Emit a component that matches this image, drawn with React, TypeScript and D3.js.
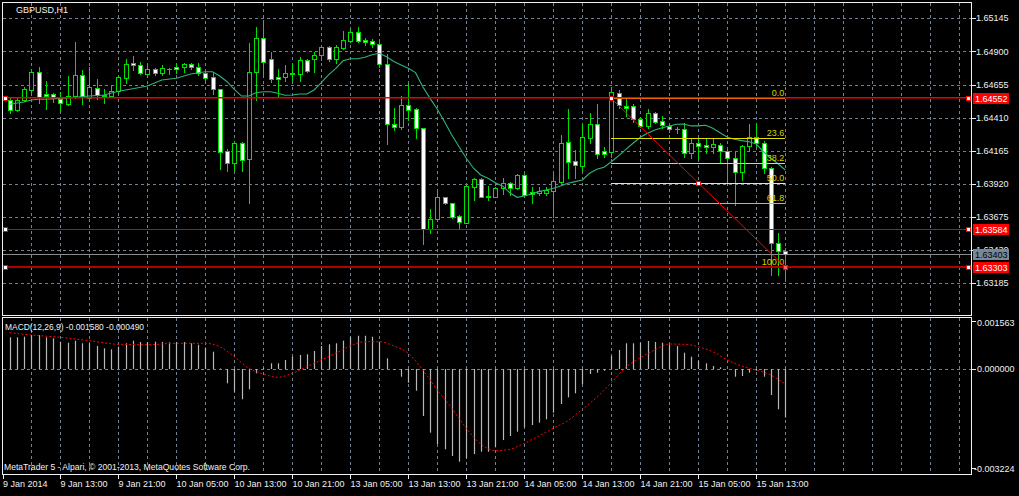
import { useEffect, useRef } from 'react';
import * as d3 from 'd3';

const W = 1019;
const H = 496;

// GBPUSD H1, bar 0 = 9 Jan 05:00 (weekend hours skipped); data starts at bar 1
const FIRST_BAR = 1;

const open = [
  1.64541, 1.64467, 1.64541, 1.64615, 1.64750, 1.64585, 1.64585, 1.64550, 1.64511, 1.64570,
  1.64723, 1.64553, 1.64630, 1.64578, 1.64570, 1.64605, 1.64704, 1.64812, 1.64797, 1.64733,
  1.64768, 1.64738, 1.64772, 1.64783, 1.64783, 1.64805, 1.64783, 1.64738, 1.64709, 1.64624,
  1.64161, 1.64073, 1.64221, 1.64102, 1.64750, 1.64997, 1.64842, 1.64709, 1.64709, 1.64743,
  1.64731, 1.64837, 1.64842, 1.64874, 1.64931, 1.64842, 1.64923, 1.64979, 1.65046, 1.64985,
  1.64977, 1.64955, 1.64805, 1.64361, 1.64339, 1.64502, 1.64472, 1.64331, 1.63585, 1.63658,
  1.63821, 1.63777, 1.63683, 1.63633, 1.63895, 1.63954, 1.63833, 1.63826, 1.63888, 1.63925,
  1.63888, 1.63986, 1.63863, 1.63851, 1.63855, 1.63870, 1.63937, 1.64232, 1.64092, 1.64053,
  1.64258, 1.64363, 1.64166, 1.64158, 1.64590, 1.64496, 1.64496, 1.64398, 1.64349, 1.64442,
  1.64383, 1.64349, 1.64329, 1.64324, 1.64147, 1.64221, 1.64208, 1.64195, 1.64208, 1.64166,
  1.64110, 1.64011, 1.64201, 1.64269, 1.64221, 1.64036, 1.63485, 1.63426,
];

const high = [
  1.64561, 1.64563, 1.64635, 1.64763, 1.64787, 1.64684, 1.64590, 1.64602, 1.64718, 1.64970,
  1.64763, 1.64783, 1.64694, 1.64620, 1.64644, 1.64726, 1.64842, 1.64866, 1.64820, 1.64812,
  1.64777, 1.64800, 1.64777, 1.64812, 1.64817, 1.64812, 1.64812, 1.64750, 1.64750, 1.64624,
  1.64176, 1.64232, 1.64232, 1.64960, 1.65083, 1.65132, 1.64898, 1.64768, 1.64800, 1.64812,
  1.64857, 1.64842, 1.64898, 1.64948, 1.64940, 1.64948, 1.65053, 1.65059, 1.65078, 1.64997,
  1.64990, 1.64972, 1.64881, 1.64479, 1.64570, 1.64669, 1.64479, 1.64331, 1.63732, 1.63880,
  1.63826, 1.63781, 1.63690, 1.63912, 1.63962, 1.63962, 1.63905, 1.63895, 1.63962, 1.63937,
  1.63993, 1.63993, 1.63900, 1.63900, 1.63900, 1.63999, 1.64282, 1.64472, 1.64171, 1.64368,
  1.64447, 1.64511, 1.64195, 1.64639, 1.64615, 1.64565, 1.64511, 1.64413, 1.64472, 1.64452,
  1.64422, 1.64368, 1.64343, 1.64373, 1.64250, 1.64250, 1.64250, 1.64250, 1.64225, 1.64176,
  1.64158, 1.64208, 1.64363, 1.64368, 1.64238, 1.64043, 1.63555, 1.63444,
];

const low = [
  1.64442, 1.64459, 1.64536, 1.64590, 1.64521, 1.64472, 1.64528, 1.64467, 1.64504, 1.64553,
  1.64511, 1.64541, 1.64546, 1.64521, 1.64565, 1.64595, 1.64669, 1.64763, 1.64733, 1.64718,
  1.64728, 1.64726, 1.64733, 1.64738, 1.64750, 1.64768, 1.64726, 1.64676, 1.64585, 1.64028,
  1.64018, 1.64018, 1.64018, 1.63781, 1.64541, 1.64713, 1.64676, 1.64561, 1.64684, 1.64689,
  1.64684, 1.64750, 1.64750, 1.64837, 1.64831, 1.64812, 1.64916, 1.64972, 1.64972, 1.64948,
  1.64935, 1.64787, 1.64215, 1.64319, 1.64324, 1.64393, 1.64258, 1.63476, 1.63559, 1.63653,
  1.63772, 1.63666, 1.63585, 1.63629, 1.63801, 1.63821, 1.63801, 1.63821, 1.63846, 1.63838,
  1.63880, 1.63831, 1.63781, 1.63838, 1.63838, 1.63673, 1.63927, 1.63962, 1.63962, 1.64023,
  1.64221, 1.64110, 1.64117, 1.64121, 1.64479, 1.64422, 1.64380, 1.64339, 1.64331, 1.64373,
  1.64331, 1.64306, 1.64295, 1.64117, 1.64110, 1.64110, 1.64151, 1.64147, 1.64073, 1.63937,
  1.63764, 1.63949, 1.64166, 1.64201, 1.63999, 1.63247, 1.63247, 1.63210,
];

const close = [
  1.64467, 1.64541, 1.64620, 1.64750, 1.64561, 1.64570, 1.64558, 1.64521, 1.64570, 1.64723,
  1.64561, 1.64635, 1.64578, 1.64570, 1.64605, 1.64709, 1.64807, 1.64797, 1.64738, 1.64768,
  1.64738, 1.64775, 1.64768, 1.64772, 1.64807, 1.64783, 1.64738, 1.64706, 1.64620, 1.64156,
  1.64073, 1.64221, 1.64097, 1.64750, 1.64997, 1.64822, 1.64696, 1.64696, 1.64738, 1.64731,
  1.64837, 1.64758, 1.64874, 1.64931, 1.64842, 1.64931, 1.64985, 1.65046, 1.64979, 1.64972,
  1.64955, 1.64805, 1.64361, 1.64339, 1.64502, 1.64467, 1.64331, 1.63585, 1.63658, 1.63821,
  1.63777, 1.63678, 1.63641, 1.63905, 1.63954, 1.63826, 1.63823, 1.63888, 1.63925, 1.63888,
  1.63986, 1.63838, 1.63846, 1.63868, 1.63875, 1.63944, 1.64225, 1.64084, 1.64058, 1.64265,
  1.64363, 1.64141, 1.64141, 1.64602, 1.64504, 1.64482, 1.64398, 1.64349, 1.64442, 1.64380,
  1.64354, 1.64324, 1.64324, 1.64151, 1.64225, 1.64201, 1.64195, 1.64215, 1.64166, 1.64110,
  1.64011, 1.64201, 1.64269, 1.64225, 1.64036, 1.63485, 1.63426, 1.63403,
];

// moving average, read at these bars
const maBars = [
  1, 3, 4, 5, 6, 8, 10, 12, 14, 16, 18, 20, 22, 24, 26, 28,
  29, 30, 31, 32, 33, 34, 35, 36, 37, 38, 39, 40, 41, 42, 43, 44, 45, 46, 47, 48,
  49, 50, 51, 52, 53, 54, 55, 56, 57, 58, 59, 60, 61, 62, 63, 64, 65, 66, 67, 68,
  69, 70, 71, 72, 73, 74, 75, 76, 77, 78, 79, 80, 81, 82, 83, 84, 85, 86, 87, 88,
  89, 90, 91, 92, 93, 94, 95, 96, 97, 98, 99, 100, 101, 102, 103, 104, 105, 106, 107, 108,
];
const maVals = [
  1.64509, 1.64526, 1.64541, 1.64546, 1.64546, 1.64553, 1.64561, 1.64570, 1.64578, 1.64605,
  1.64624, 1.64644, 1.64689, 1.64702, 1.64733, 1.64750,
  1.64750, 1.64718, 1.64676, 1.64620, 1.64570, 1.64570, 1.64595, 1.64602, 1.64602, 1.64590,
  1.64576, 1.64578, 1.64585, 1.64585, 1.64615, 1.64669, 1.64726, 1.64775, 1.64831, 1.64846,
  1.64846, 1.64857, 1.64876, 1.64886, 1.64861, 1.64825, 1.64800, 1.64775, 1.64743, 1.64639,
  1.64553, 1.64472, 1.64380, 1.64282, 1.64195, 1.64110, 1.64036, 1.63986, 1.63962, 1.63929,
  1.63905, 1.63855, 1.63821, 1.63831, 1.63846, 1.63863, 1.63875, 1.63888, 1.63905, 1.63925,
  1.63937, 1.63949, 1.63999, 1.64028, 1.64043, 1.64084, 1.64127, 1.64176, 1.64221, 1.64265,
  1.64295, 1.64319, 1.64336, 1.64349, 1.64361, 1.64363, 1.64349, 1.64349, 1.64354, 1.64331,
  1.64299, 1.64265, 1.64250, 1.64240, 1.64232, 1.64215, 1.64158, 1.64110, 1.64069, 1.64023,
];

// MACD(12,26,9) main values (histogram), bars 1..108
const macd = [
  0.001032, 0.001032, 0.001052, 0.001107, 0.001107, 0.001032, 0.001000, 0.000889, 0.000856, 0.000922,
  0.000837, 0.000837, 0.000749, 0.000674, 0.000641, 0.000726, 0.000837, 0.000922, 0.000879, 0.000879,
  0.000889, 0.000879, 0.000869, 0.000879, 0.000879, 0.000837, 0.000791, 0.000694, 0.000563, 0.000016,
  -0.000466, -0.000739, -0.000987, -0.000661, -0.000140, 0.000030, 0.000186, 0.000186, 0.000293, 0.000401,
  0.000456, 0.000479, 0.000586, 0.000749, 0.000804, 0.000837, 0.000922, 0.001052, 0.001084, 0.001084,
  0.001052, 0.000889, 0.000348, -0.000033, -0.000251, -0.000446, -0.000707, -0.001530, -0.002074, -0.002442,
  -0.002615, -0.002833, -0.003019, -0.002908, -0.002768, -0.002693, -0.002693, -0.002550, -0.002312, -0.002182,
  -0.002042, -0.001898, -0.001824, -0.001749, -0.001638, -0.001423, -0.001140, -0.000922, -0.000791, -0.000488,
  -0.000163, -0.000120, -0.000055, 0.000423, 0.000619, 0.000837, 0.000837, 0.000856, 0.000912, 0.000879,
  0.000856, 0.000782, 0.000749, 0.000531, 0.000401, 0.000270, 0.000186, 0.000098, 0.000055, 0.000010,
  -0.000251, -0.000228, -0.000120, -0.000055, -0.000251, -0.000847, -0.001312, -0.001580,
];

// signal line, read at these bars
const sigBars = [
  1, 4, 8, 12, 16, 20, 24, 28, 30, 32, 34, 36, 38, 40, 42, 44, 46, 48, 50, 52, 54, 56, 58, 60,
  62, 64, 66, 68, 70, 72, 74, 76, 78, 80, 82, 84, 86, 88, 90, 92, 94, 96, 98, 100, 102, 104, 106, 108,
];
const sigVals = [
  0.001182, 0.001107, 0.001032, 0.000922, 0.000804, 0.000791, 0.000837, 0.000837, 0.000726, 0.000401,
  0.000023, -0.000163, -0.000270, -0.000140, 0.000075, 0.000293, 0.000511, 0.000749, 0.000889, 0.000889,
  0.000749, 0.000511, -0.000033, -0.000684, -0.001280, -0.001931, -0.002442, -0.002660, -0.002615, -0.002419,
  -0.002182, -0.001931, -0.001683, -0.001312, -0.000922, -0.000446, 0.000055, 0.000368, 0.000619, 0.000814,
  0.000804, 0.000726, 0.000563, 0.000293, 0.000098, -0.000033, -0.000195, -0.000490,
];

const priceTicks = [1.65145, 1.649, 1.64655, 1.6441, 1.64165, 1.6392, 1.63675, 1.6343, 1.63185];
const macdTicks = [0.001563, 0, -0.003224];
const timeBars = [0, 8, 16, 24, 32, 40, 48, 56, 64, 72, 80, 88, 96, 104];
const timeLabels = [
  '9 Jan 2014', '9 Jan 13:00', '9 Jan 21:00', '10 Jan 05:00', '10 Jan 13:00', '10 Jan 21:00',
  '13 Jan 05:00', '13 Jan 13:00', '13 Jan 21:00', '14 Jan 05:00', '14 Jan 13:00', '14 Jan 21:00',
  '15 Jan 05:00', '15 Jan 13:00',
];

// chart objects
const hLines = [1.64552, 1.63584, 1.63303];
const bidPrice = 1.63403;
const fibBars = [84, 108];
const fibPrices = [1.64552, 1.63303];
const fibLevels = [0, 23.6, 38.2, 50, 61.8, 100];

const GREEN = '#00e000';
const GRID = '#6f8193';
const FONT = 'Tahoma, "Liberation Sans", Arial, sans-serif';

export default function App() {
  const svgRef = useRef<SVGSVGElement>(null);

  useEffect(() => {
    document.body.style.margin = '0';
    document.body.style.background = '#000';
    if (!svgRef.current) return;
    const svg = d3.select(svgRef.current);
    svg.selectAll('*').remove();

    const left = 3, right = 971;
    const mainTop = 3, mainBottom = 315;
    const subTop = 318, subBottom = 474;

    const x = d3.scaleLinear().domain([0, 8]).range([2.3, 60.3]);
    const y = d3.scaleLinear().domain([1.65145, 1.63185]).range([18.3, 283.3]);
    const ym = d3.scaleLinear().domain([0.001563, -0.003224]).range([321, 468]);
    const px = (i: number) => Math.round(x(i)) + 0.5;
    const py = (v: number) => Math.round(y(v)) + 0.5;

    svg.append('rect').attr('width', W).attr('height', H).attr('fill', '#000');

    const defs = svg.append('defs');
    defs.append('clipPath').attr('id', 'clipMain').append('rect')
      .attr('x', left).attr('y', mainTop).attr('width', right - left).attr('height', mainBottom - mainTop);
    defs.append('clipPath').attr('id', 'clipSub').append('rect')
      .attr('x', left).attr('y', subTop).attr('width', right - left).attr('height', subBottom - subTop);

    // grid
    const grid = svg.append('g').attr('stroke', GRID).attr('stroke-dasharray', '3,3').attr('shape-rendering', 'crispEdges');
    const vBars = d3.range(4, 134, 4).filter(i => x(i) < right);
    vBars.forEach(i => {
      grid.append('line').attr('x1', px(i)).attr('x2', px(i)).attr('y1', mainTop).attr('y2', mainBottom);
      grid.append('line').attr('x1', px(i)).attr('x2', px(i)).attr('y1', subTop).attr('y2', subBottom);
    });
    priceTicks.forEach(p => {
      grid.append('line').attr('x1', left).attr('x2', right).attr('y1', py(p)).attr('y2', py(p));
    });
    grid.append('line').attr('x1', left).attr('x2', right)
      .attr('y1', Math.round(ym(0)) + 0.5).attr('y2', Math.round(ym(0)) + 0.5);

    // candles
    const main = svg.append('g').attr('clip-path', 'url(#clipMain)');
    const cg = main.append('g').attr('shape-rendering', 'crispEdges');
    open.forEach((o, k) => {
      const i = k + FIRST_BAR;
      const c = close[k];
      const cx = px(i);
      cg.append('line').attr('x1', cx).attr('x2', cx)
        .attr('y1', Math.round(y(high[k]))).attr('y2', Math.round(y(low[k])) + 1)
        .attr('stroke', GREEN);
      const top = Math.round(y(Math.max(o, c)));
      const bot = Math.round(y(Math.min(o, c)));
      if (bot - top < 1) {
        cg.append('line').attr('x1', cx - 2.5).attr('x2', cx + 2.5)
          .attr('y1', top + 0.5).attr('y2', top + 0.5).attr('stroke', GREEN);
      } else {
        cg.append('rect').attr('x', cx - 2).attr('y', top + 0.5)
          .attr('width', 4).attr('height', bot - top)
          .attr('fill', c > o ? '#000' : '#fff').attr('stroke', GREEN);
      }
    });

    // moving average
    const maLine = d3.line<number>().x((_, k) => x(maBars[k])).y(v => y(v));
    main.append('path').datum(maVals).attr('d', maLine)
      .attr('fill', 'none').attr('stroke', '#2fb37a').attr('stroke-width', 1.1);

    // fibonacci retracement
    const fibX0 = x(fibBars[0]), fibX1 = x(fibBars[1]);
    const fibPrice = (lv: number) => fibPrices[0] + (fibPrices[1] - fibPrices[0]) * lv / 100;
    const fibColors = ['#ffb400', '#dede00', '#e6e600', '#ffff00', '#c8c800', '#a00000'];
    fibLevels.forEach((lv, k) => {
      const yy = Math.round(y(fibPrice(lv))) + 0.5;
      main.append('line').attr('x1', fibX0).attr('x2', fibX1).attr('y1', yy).attr('y2', yy)
        .attr('stroke', fibColors[k]).attr('shape-rendering', 'crispEdges');
      main.append('text').attr('x', fibX1 - 1).attr('y', yy - 3)
        .attr('text-anchor', 'end').attr('fill', '#d2d200')
        .attr('font-family', FONT).attr('font-size', 9).text(lv.toFixed(1));
    });
    main.append('line').attr('x1', fibX0).attr('y1', y(fibPrices[0]))
      .attr('x2', fibX1).attr('y2', y(fibPrices[1]))
      .attr('stroke', '#ff0000').attr('stroke-width', 1);

    // horizontal lines + bid line
    const hColors = ['#f00000', '#e00000', '#b00000'];
    const hWidths = [1.5, 1, 2];
    hLines.forEach((p, k) => {
      const yy = Math.round(y(p)) - (k === 0 ? 0.25 : k === 2 ? 0 : -0.5);
      main.append('line').attr('x1', left).attr('x2', right).attr('y1', yy).attr('y2', yy)
        .attr('stroke', hColors[k]).attr('stroke-width', hWidths[k]);
    });
    main.append('line').attr('x1', left).attr('x2', right)
      .attr('y1', py(bidPrice)).attr('y2', py(bidPrice))
      .attr('stroke', '#8c8c8c').attr('shape-rendering', 'crispEdges');

    // object handles
    const handle = (hx: number, hy: number, fill: string) => {
      svg.append('rect').attr('x', Math.round(hx) - 2 + 0.5).attr('y', Math.round(hy) - 2 + 0.5)
        .attr('width', 4).attr('height', 4).attr('fill', fill).attr('stroke', '#ff0000')
        .attr('shape-rendering', 'crispEdges');
    };
    hLines.forEach(p => {
      handle(5, y(p), '#fff');
      handle(968, y(p), '#fff');
    });
    handle(fibX0, y(fibPrices[0]), '#fff');
    handle(x((fibBars[0] + fibBars[1]) / 2), y(fibPrice(50)), '#fff');
    handle(fibX1, y(fibPrices[1]), '#ff6060');

    // MACD
    const sub = svg.append('g').attr('clip-path', 'url(#clipSub)');
    macd.forEach((v, k) => {
      const cx = px(k + FIRST_BAR);
      sub.append('line').attr('x1', cx).attr('x2', cx)
        .attr('y1', ym(0)).attr('y2', ym(v))
        .attr('stroke', '#b8b8b8').attr('stroke-width', 1.2);
    });
    const sigLine = d3.line<number>().x((_, k) => x(sigBars[k])).y(v => ym(v)).curve(d3.curveMonotoneX);
    sub.append('path').datum(sigVals).attr('d', sigLine)
      .attr('fill', 'none').attr('stroke', '#ff0000').attr('stroke-dasharray', '2,2');

    // panel borders
    const border = svg.append('g').attr('fill', 'none').attr('stroke', '#f0f0f0').attr('shape-rendering', 'crispEdges');
    border.append('rect').attr('x', 2.5).attr('y', 2.5).attr('width', right - 2).attr('height', mainBottom - 2);
    border.append('rect').attr('x', 2.5).attr('y', subTop - 0.5).attr('width', right - 2).attr('height', subBottom - subTop + 1);

    // price axis
    const axis = svg.append('g').attr('font-family', FONT).attr('font-size', 9).attr('fill', '#f0f0f0');
    priceTicks.forEach(p => {
      svg.append('line').attr('x1', right + 0.5).attr('x2', right + 5).attr('y1', py(p)).attr('y2', py(p))
        .attr('stroke', '#f0f0f0').attr('shape-rendering', 'crispEdges');
      axis.append('text').attr('x', 976).attr('y', y(p)).attr('dy', '0.35em').text(p.toFixed(5));
    });
    macdTicks.forEach((v, k) => {
      const yy = k === 0 ? 323 : k === 2 ? 469 : ym(v);
      svg.append('line').attr('x1', right + 0.5).attr('x2', right + 5)
        .attr('y1', Math.round(ym(v)) + 0.5).attr('y2', Math.round(ym(v)) + 0.5)
        .attr('stroke', '#f0f0f0').attr('shape-rendering', 'crispEdges');
      axis.append('text').attr('x', v < 0 ? 974 : 977).attr('y', yy).attr('dy', '0.35em').text(v.toFixed(6));
    });

    // price labels for objects
    const tag = (p: number, bg: string, fg: string) => {
      const yy = Math.round(y(p));
      svg.append('rect').attr('x', 973).attr('y', yy - 5).attr('width', 36).attr('height', 11).attr('fill', bg);
      svg.append('text').attr('x', 975).attr('y', yy + 0.5).attr('dy', '0.35em')
        .attr('font-family', FONT).attr('font-size', 9).attr('fill', fg).text(p.toFixed(5));
    };
    tag(bidPrice, '#778899', '#000');
    hLines.forEach(p => tag(p, '#ff0000', '#fff'));

    // time axis
    timeBars.forEach((b, k) => {
      const tx = Math.max(px(b), 3);
      svg.append('line').attr('x1', tx).attr('x2', tx).attr('y1', subBottom).attr('y2', subBottom + 5)
        .attr('stroke', '#f0f0f0').attr('shape-rendering', 'crispEdges');
      axis.append('text').attr('x', tx).attr('y', 487).text(timeLabels[k]);
    });

    // captions
    axis.append('text').attr('x', 16).attr('y', 12.5).text('GBPUSD,H1');
    axis.append('text').attr('x', 5).attr('y', 330).attr('textLength', 139)
      .attr('lengthAdjust', 'spacingAndGlyphs').text('MACD(12,26,9) -0.001580 -0.000490');
    axis.append('text').attr('x', 4).attr('y', 470).attr('textLength', 246)
      .attr('lengthAdjust', 'spacingAndGlyphs')
      .text('MetaTrader 5 - Alpari, \u00a9 2001-2013, MetaQuotes Software Corp.');
  }, []);

  return <svg ref={svgRef} width={W} height={H} style={{ display: 'block', background: '#000' }} />;
}
